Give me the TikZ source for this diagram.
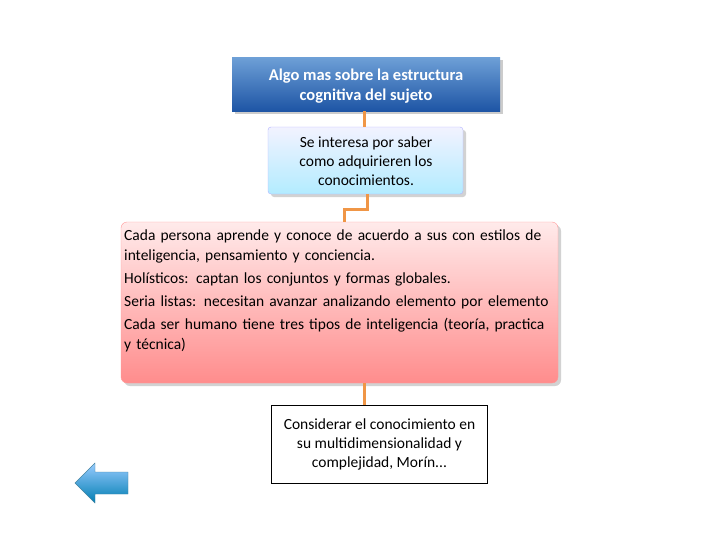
\documentclass[tikz,border=0pt]{standalone}
\usepackage{fontspec}
\setmainfont{Carlito}
\definecolor{topA}{RGB}{110,160,215}
\definecolor{topB}{RGB}{30,85,165}
\definecolor{orng}{RGB}{240,150,70}
\begin{document}
\begin{tikzpicture}[x=1pt,y=-1pt,
  conn/.style={draw=orng,line width=3pt},
  txt/.style={font=\fontsize{15.5}{19}\selectfont}]
\useasboundingbox[fill=white] (0,0) rectangle (728,546);
\fill[gray!40] (235,60) rectangle (503,114);
\shade[top color=topA, bottom color=topB] (232,57) rectangle (500,111);
\node[text=white,font=\bfseries\fontsize{16.5}{20}\selectfont,align=center] (a) at (366,86) {Algo mas sobre la estructura\\cognitiva del sujeto};
\coordinate (aB) at (364,111);
\fill[gray!35,rounded corners=3pt] (271,130) rectangle (466,197);
\shade[rounded corners=3pt,top color=blue!5, bottom color=blue!25!cyan!30,draw=blue!30] (268,127) rectangle (463,194);
\node[txt,align=center] (b) at (366,161) {Se interesa por saber\\como adquirieren los\\conocimientos.};
\coordinate (bT) at (364,127);
\coordinate (bB) at (367,194);
\fill[gray!35,rounded corners=6pt] (124,225) rectangle (561,386);
\shade[rounded corners=6pt,top color=red!8, bottom color=red!45,draw=red!40] (121,222) rectangle (558,383);
\node[txt,align=left,text width=425pt,inner sep=2pt,anchor=north west,font=\fontsize{15.5}{20}\selectfont] (c) at (122,228) {Cada persona aprende y conoce de acuerdo a sus con estilos de inteligencia, pensamiento y conciencia.\\[3pt]
Holísticos: captan los conjuntos y formas globales.\\[3pt]
Seria listas: necesitan avanzar analizando elemento por elemento\\[3pt]
Cada ser humano tiene tres tipos de inteligencia (teoría, practica y técnica)};
\coordinate (cT) at (344,222);
\coordinate (cB) at (364,383);
\node[draw=black,line width=1pt,fill=white,minimum width=216pt,minimum height=78pt,anchor=north west] (d) at (271,405) {};
\node[txt,align=center] at (d.center) {Considerar el conocimiento en\\su multidimensionalidad y\\complejidad, Morín...};
\coordinate (dT) at (364,405);
\draw[conn] (aB) -- (bT);
\draw[conn] (bB) -- (367,209) -- (344,209) -- (cT);
\draw[conn] (cB) -- (dT);
\shade[top color=cyan!50!blue!40, bottom color=cyan!70!blue!70!black,draw=cyan!60!black] (75,483) -- (95,463) -- (95,472) -- (128,472) -- (128,494) -- (95,494) -- (95,503) -- cycle;
\end{tikzpicture}
\end{document}
